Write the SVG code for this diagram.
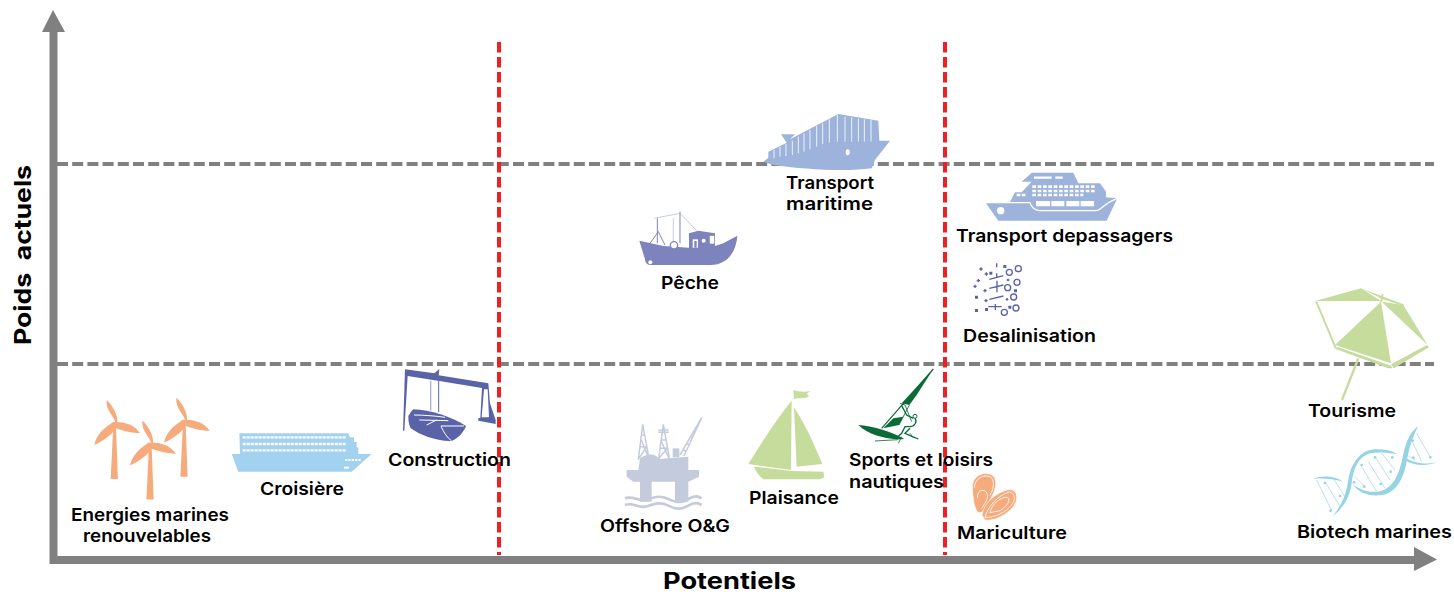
<svg xmlns="http://www.w3.org/2000/svg" xmlns:xlink="http://www.w3.org/1999/xlink" width="1454" height="594" viewBox="0 0 1454 594">
<style>
text{font-family:Inter,"Noto Sans","Liberation Sans",sans-serif;font-weight:600;font-size:17.5px;fill:#000}
.ax{font-weight:700;font-size:23px}
.gd{fill:none;stroke:#808080;stroke-width:4;stroke-dasharray:11 4.2}
.rd{fill:none;stroke:#ed2024;stroke-width:4;stroke-dasharray:10.5 4.5}
.ora{fill:#f6ab7c}.blu{fill:#a3d2f1}.ind{fill:#5b63a8}.sil{fill:#c3cbdd}.grn{fill:#c5dc9c}.dgr{fill:#0a6b37}.ste{fill:#9db3dc}.vio{fill:#7d83bd}
.w{fill:#fff}
.wl{fill:none;stroke:#fff}
</style>
<defs>
<g id="turbine" class="ora">
<path d="M-1,0 L1.6,0 L3.6,54 L-3.6,54Z"/>
<path d="M1.5,-1 C1,-8 -9,-14 -7.6,-25 C-3,-21 4,-11 3,-2Z"/>
<path d="M2,-3 C10,-3 21,0 25.7,8.3 C16,8 6,5 0,2.5Z"/>
<path d="M-1,-3 C-9,2 -18,9 -20,20 C-12,16 -2,10 2,2Z"/>
<circle r="3"/>
</g>
</defs>
<g id="connectors">
<path d="M57,164H1434M57,364H1434" class="gd"/>
<path d="M499,42V555M945,42V555" class="rd"/>
<path d="M49.500,566V32H42L53,10L65,32H57.500V556H1414V547L1437,559.500L1414,571V564H49.500Z" fill="#808080"/>
</g>
<g id="energies">
<use xlink:href="#turbine" href="#turbine" x="114.300" y="425"/>
<use xlink:href="#turbine" href="#turbine" x="184" y="422.700"/>
<use xlink:href="#turbine" href="#turbine" x="150" y="445.500"/>
<text x="71" y="520.700" textLength="158" lengthAdjust="spacingAndGlyphs">Energies marines</text>
<text x="83" y="542" textLength="128" lengthAdjust="spacingAndGlyphs">renouvelables</text>
</g>
<g id="croisiere">
<g transform="translate(50 360) scale(.33333)">
<path class="blu" d="M568,220H895L900,232H912V246H920V262H925V282H965L905,335H565L545,282H570Z"/>
<path d="M578,232H890M578,252H890M578,271H890" class="wl" stroke-width="7" stroke-dasharray="9 3"/>
<path d="M885,300H932" class="wl" stroke-width="6" stroke-dasharray="7 3"/>
<path d="M882,323H897" class="wl" stroke-width="6"/>
</g>
<text x="260" y="495" textLength="84" lengthAdjust="spacingAndGlyphs">Croisière</text>
</g>
<g id="construction">
<g transform="translate(380 360) scale(.33333)">
<path class="ind" d="M75,28L163,40L178,27L176,46L325,70L330,130L347,180V192L295,182V174L301,174L306,84L178,63L83,48L73,212L69,212Z"/>
<path class="w" d="M312,88L323,88L327,172L305,172Z"/>
<path d="M152,62V152" stroke="#aab0d4" stroke-width="4"/>
<path d="M176,62V156" stroke="#5b63a8" stroke-width="3"/>
<path class="ind" d="M100,148C150,150 215,170 258,198C252,215 235,235 215,243C170,245 120,225 92,205C85,190 85,175 85,168C90,160 95,152 100,148Z"/>
<path d="M102,165C130,165 170,168 195,172M118,180L205,182M140,195L170,180M183,198C190,215 200,232 215,243M183,198L252,198" class="wl" stroke-width="3"/>
</g>
<text x="388" y="466" textLength="123" lengthAdjust="spacingAndGlyphs">Construction</text>
</g>
<g id="offshore">
<g transform="translate(620 415) scale(.33333)">
<path class="sil" d="M20,165H55L60,130C85,112 110,118 116,132L205,125V165H237V185L205,200V260H165V200H95V260H60V200H40L20,185Z"/>
<rect x="158" y="100" width="20" height="27" class="sil"/>
<g fill="none" stroke="#c3cbdd" stroke-width="4.500">
<path d="M68,28L55,135M68,28L86,125M64,60H74M60,95H80M57,130L80,95M84,125L62,70"/>
<path d="M130,28L116,132M130,28L148,130M115,45H146M115,52H146M122,75H140M118,100H144M117,130L142,100M147,130L122,75"/>
<path d="M180,120L245,8M192,123L245,8M188,105L198,108M198,85L208,90M210,62L218,68"/>
</g>
<path d="M15,250C40,240 55,262 80,254S120,240 145,252S185,264 205,252S235,244 245,250M15,270C40,260 55,282 80,274S120,260 145,272S185,284 205,272S235,264 245,270" fill="none" stroke="#c3cbdd" stroke-width="8"/>
</g>
<text x="600" y="532.300" textLength="130" lengthAdjust="spacingAndGlyphs">Offshore O&amp;G</text>
</g>
<g id="plaisance">
<g transform="translate(590 360) scale(.33333)" class="grn">
<path d="M605,122L603,330L475,312C520,240 565,170 605,122Z"/>
<path d="M612,142C650,200 675,260 697,312L620,320Z"/>
<path d="M492,320L605,333L700,335L703,352L690,358H520C505,345 498,335 492,320Z"/>
<path d="M610,90C625,95 645,97 661,93L650,102L658,108C645,118 625,112 612,117Z"/>
</g>
<text x="749" y="503.700" textLength="90" lengthAdjust="spacingAndGlyphs">Plaisance</text>
</g>
<g id="sports">
<g transform="translate(855 365) scale(.33333)">
<path class="dgr" d="M235,12L140,115L163,120L185,90Z"/>
<path class="dgr" d="M115,160L145,155L132,180L85,190Z"/>
<path class="dgr" d="M10,180C50,182 110,200 148,222C100,226 40,210 10,180Z"/>
<g fill="none" stroke="#0a6b37">
<path d="M235,12L80,190" stroke-width="3.500"/>
<path d="M135,115L150,120L170,170M163,120L132,180" stroke-width="2.500"/>
<path d="M175,160L155,150L140,122M180,160C188,170 178,185 165,185L150,185L140,205L125,218M165,190L150,205L165,212L190,222" stroke-width="4"/>
<path d="M60,228L130,224M140,215L130,235M165,205L175,218" stroke-width="2.500"/>
</g>
<circle cx="180" cy="154" r="6" fill="#fff" stroke="#0a6b37" stroke-width="3"/>
</g>
<text x="849" y="466" textLength="144" lengthAdjust="spacingAndGlyphs">Sports et loisirs</text>
<text x="849" y="487.700" textLength="95" lengthAdjust="spacingAndGlyphs">nautiques</text>
</g>
<g id="mariculture">
<g transform="translate(850 360) scale(.33333)">
<path class="ora" stroke="#fff" stroke-width="2" d="M367,385C365,350 395,335 420,342C445,350 440,385 425,410C412,435 405,460 385,458C372,445 370,420 367,385Z"/>
<path class="ora" stroke="#fff" stroke-width="2" d="M396,465C400,430 440,395 480,388C505,392 505,420 490,440C470,465 430,485 405,480Z"/>
<path d="M373,385C372,358 398,343 418,349C436,356 432,385 420,406M383,415C380,395 395,385 408,395C420,410 405,430 395,445M405,472C412,440 445,405 478,396C497,400 497,420 484,436C468,456 435,474 405,472M420,458C425,430 455,410 472,412C485,420 470,440 450,452Z" class="wl" stroke-width="2.500"/>
</g>
<text x="957" y="539" textLength="110" lengthAdjust="spacingAndGlyphs">Mariculture</text>
</g>
<g id="transport-maritime">
<g transform="translate(630 100) scale(.33333)">
<path class="ste" d="M400,185L415,173V155L470,128L453,103H495L480,118L625,42L745,62L748,122L780,122L735,180L725,205C650,216 520,208 430,195Z"/>
<path d="M432,150V175M450,140V170M468,132V168M487,122V165M505,110V160M522,100V155M540,90V148M560,78V140M578,70V132M598,58V128M622,45V125M645,50V125M665,52V125M685,56V125M703,58V125M723,60V125" class="wl" stroke-width="2.500"/>
<ellipse cx="653" cy="157" rx="6" ry="9" class="w"/>
</g>
<text x="786" y="189" textLength="88" lengthAdjust="spacingAndGlyphs">Transport</text>
<text x="786" y="210" textLength="87" lengthAdjust="spacingAndGlyphs">maritime</text>
</g>
<g id="peche">
<g transform="translate(630 100) scale(.33333)">
<path class="vio" d="M28,422L100,438L177,443V400L205,392L255,400V438L280,430L322,407C320,440 305,470 285,482C270,492 255,495 240,495H60C52,495 45,488 45,478Z"/>
<path d="M150,335V430M82,355V430M60,430L85,395L105,435" fill="none" stroke="#7d83bd" stroke-width="3"/>
<path d="M72,355L150,340L200,392M130,355V440" fill="none" stroke="#aab0d4" stroke-width="2"/>
<circle cx="132" cy="436" r="11" fill="#fff" stroke="#7d83bd" stroke-width="4"/>
<circle cx="61" cy="487" r="6" class="w"/>
<rect x="188" y="418" width="16" height="25" fill="#fff"/>
<rect x="193" y="423" width="7" height="20" class="vio"/>
<circle cx="221" cy="422" r="6" class="w"/>
<rect x="238" y="407" width="16" height="25" fill="#fff" stroke="#7d83bd" stroke-width="2"/>
</g>
<text x="661" y="289" textLength="58" lengthAdjust="spacingAndGlyphs">Pêche</text>
</g>
<g id="transport-passagers">
<g transform="translate(950 160) scale(.33333)">
<path class="ste" d="M108,130L180,125L195,97H215L245,65L215,65L245,38H370L385,70H450L468,95V112L502,115L470,182H145Z"/>
<path d="M252,53H305M316,53H338" class="wl" stroke-width="7"/>
<path d="M247,80H438M247,93H438M247,105H400" class="wl" stroke-width="8" stroke-dasharray="11 5"/>
<path d="M200,105H226" class="wl" stroke-width="8" stroke-dasharray="11 4"/>
<path d="M258,131H300M304,131H343M349,131H388M392,131H432" class="wl" stroke-width="16"/>
<path d="M108,128H240C250,155 270,152 290,152H440C455,150 460,130 502,115" class="wl" stroke-width="4"/>
<circle cx="152" cy="152" r="11" class="w"/>
</g>
<text x="956" y="241.700" textLength="217" lengthAdjust="spacingAndGlyphs">Transport depassagers</text>
</g>
<g id="desalinisation">
<g transform="translate(950 160) scale(.33333)">
<g fill="none" stroke="#5b63a8" stroke-width="4">
<circle cx="205" cy="326" r="9"/><circle cx="178" cy="337" r="9"/><circle cx="201" cy="367" r="9"/><circle cx="173" cy="383" r="9"/><circle cx="191" cy="411" r="9"/><circle cx="198" cy="444" r="9"/><circle cx="163" cy="457" r="9"/>
<path d="M118,358L160,347M140,310V322M140,340V352M118,385L160,375M141,362V397M118,418L160,408M115,440H155M136,432V450M88,327H98M93,322V332M104,342H114M109,337V347M80,362H90M85,357V367M70,379H80M75,374V384M100,392H110M105,387V397M103,422H113M108,417V427M167,418H175M171,414V422M170,360H178M174,356V364"/>
</g>
<path class="ind" d="M118,335h9v9h-9zM160,315h9v9h-9zM192,388h9v9h-9zM75,407h9v9h-9zM75,447h9v9h-9zM105,444h9v9h-9zM175,437h9v9h-9z"/>
</g>
<text x="963" y="342.300" textLength="133" lengthAdjust="spacingAndGlyphs">Desalinisation</text>
</g>
<g id="tourisme">
<g transform="translate(1305 285) scale(.33333)">
<path d="M160,220L111,345" stroke="#c5dc9c" stroke-width="7"/>
<path class="w" d="M30,48L168,10L295,58L372,185L265,250L92,190Z"/>
<g class="grn">
<path d="M30,48L168,10L228,48Z"/>
<path d="M168,10L295,58L298,64L232,42Z"/>
<path d="M230,50L295,60L368,180Z"/>
<path d="M228,50L90,180L258,235Z"/>
<path d="M30,48L37,50L95,188L90,192Z"/>
<path d="M92,192L97,186L258,242L262,250L250,250Z"/>
<path d="M258,238L366,180L372,187L266,250Z"/>
</g>
<path d="M228,50L233,28" stroke="#c5dc9c" stroke-width="6"/>
</g>
<text x="1308" y="417.300" textLength="88" lengthAdjust="spacingAndGlyphs">Tourisme</text>
</g>
<g id="biotech">
<g transform="translate(1290 280) scale(.33333)">
<g stroke="#95d3e5" stroke-width="2" fill="none">
<path d="M80,600L125,692M105,605L150,680M130,595L165,650M215,560L260,635M195,590L225,620M235,545L285,625M255,530L300,600M275,520L315,570M350,525L375,540M365,480L395,545M380,460L420,530"/>
</g>
<g fill="#95d3e5">
<circle cx="105" cy="609" r="4"/><circle cx="150" cy="648" r="4"/><circle cx="122" cy="692" r="4"/><circle cx="215" cy="555" r="4"/><circle cx="255" cy="532" r="4"/><circle cx="307" cy="532" r="4"/><circle cx="192" cy="607" r="4"/><circle cx="223" cy="620" r="4"/><circle cx="272" cy="612" r="4"/><circle cx="302" cy="575" r="4"/><circle cx="368" cy="482" r="4"/><circle cx="421" cy="532" r="4"/><circle cx="370" cy="533" r="4"/>
<path d="M70,597C100,585 135,588 158,605C130,597 100,594 70,597Z"/>
<path d="M128,708C160,670 168,640 175,600C182,550 215,505 260,508C285,508 305,512 322,522C290,518 265,515 240,520C205,530 190,565 185,610C180,650 160,685 128,708Z"/>
<path d="M188,612C215,635 250,640 275,632C310,620 325,585 335,545C345,495 355,460 385,438C368,470 358,500 350,545C340,600 315,640 275,645C240,650 205,640 188,612Z"/>
<path d="M345,532C370,550 405,555 440,547C410,560 370,558 345,540Z"/>
</g>
</g>
<text x="1297" y="538" textLength="155" lengthAdjust="spacingAndGlyphs">Biotech marines</text>
</g>
<g id="axis-labels">
<text class="ax" x="663" y="588.500" textLength="133" lengthAdjust="spacingAndGlyphs">Potentiels</text>
<text class="ax" transform="translate(31 345) rotate(-90)" textLength="180" lengthAdjust="spacingAndGlyphs" xml:space="preserve">Poids  actuels</text>
</g>
</svg>
